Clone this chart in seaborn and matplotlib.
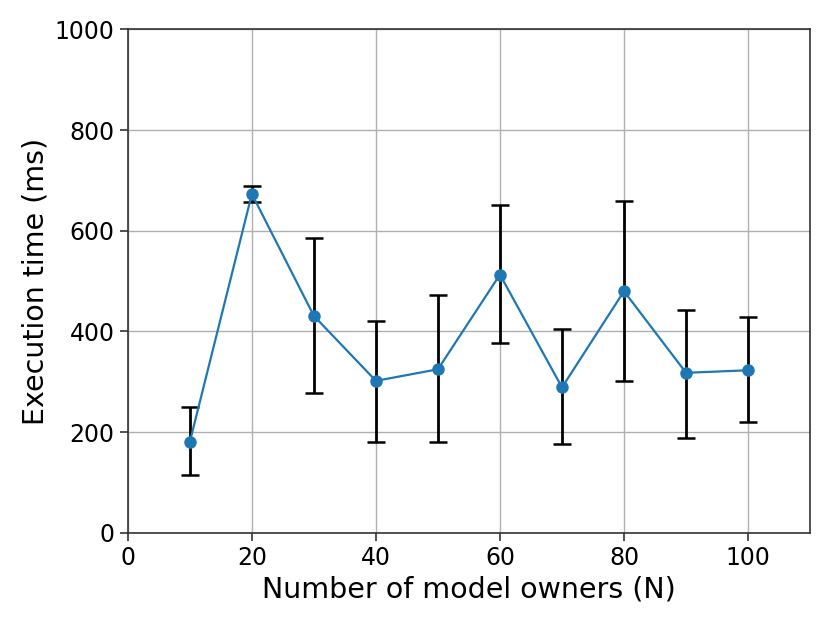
import matplotlib
matplotlib.use("Agg")
import matplotlib.pyplot as plt
import seaborn as sns
import pandas as pd
import numpy as np

owners = [10, 20, 30, 40, 50, 60, 70, 80, 90, 100]
mean_ms = [181, 673, 431, 302, 325, 513, 289, 480, 318, 323]
upper_ms = [250, 688, 585, 420, 472, 652, 405, 659, 443, 428]
lower_ms = [116, 657, 277, 181, 181, 377, 176, 302, 189, 220]

df = pd.DataFrame({"N": owners, "t": mean_ms})

sns.set_style("ticks")
plt.rcParams['font.family'] = ['DejaVu Sans']

fig = plt.figure(figsize=(8.3, 6.23), dpi=100)
ax = fig.add_axes([0.154, 0.1445, 0.822, 0.8085])

yerr = np.array([np.array(mean_ms) - np.array(lower_ms),
                 np.array(upper_ms) - np.array(mean_ms)])
ax.errorbar(owners, mean_ms, yerr=yerr, fmt='none', ecolor='black',
            elinewidth=2, capsize=6.5, capthick=1.8, zorder=2)
sns.lineplot(data=df, x="N", y="t", ax=ax, color="#1f77b4", marker="o",
             markersize=9, markeredgewidth=0, linewidth=1.6, zorder=3)

ax.set_xlim(0, 110)
ax.set_ylim(0, 1000)
ax.set_xticks([0, 20, 40, 60, 80, 100])
ax.set_yticks([0, 200, 400, 600, 800, 1000])
ax.grid(True, color="#b0b0b0", linewidth=1)
ax.set_axisbelow(True)
for s in ax.spines.values():
    s.set_color("#333333")
    s.set_linewidth(1.2)
ax.tick_params(labelsize=17, length=6, width=1.2, color="#333333", labelcolor="black")
ax.set_xlabel("Number of model owners (N)", fontsize=20.5, color="black")
ax.set_ylabel("Execution time (ms)", fontsize=20.5, color="black")

fig.savefig("out.png", dpi=100)
